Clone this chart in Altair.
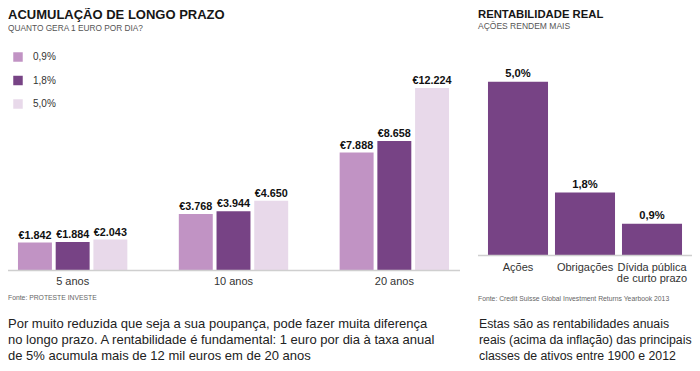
import altair as alt
import pandas as pd

# ---------------- data ----------------
periods = ["5 anos", "10 anos", "20 anos"]
rates = ["0,9%", "1,8%", "5,0%"]
values_09 = [1842, 3768, 7888]
values_18 = [1884, 3944, 8658]
values_50 = [2043, 4650, 12224]

assets = ["Ações", "Obrigações", "Dívida pública\nde curto prazo"]
returns = [5.0, 1.8, 0.9]

left_title = "ACUMULAÇÃO DE LONGO PRAZO"
left_subtitle = "QUANTO GERA 1 EURO POR DIA?"
left_source = "Fonte: PROTESTE INVESTE"
left_note = [
    "Por muito reduzida que seja a sua poupança, pode fazer muita diferença",
    "no longo prazo. A rentabilidade é fundamental: 1 euro por dia à taxa anual",
    "de 5% acumula mais de 12 mil euros em de 20 anos",
]
right_title = "RENTABILIDADE REAL"
right_subtitle = "AÇÕES RENDEM MAIS"
right_source = "Fonte: Credit Suisse Global Investment Returns Yearbook 2013"
right_note = [
    "Estas são as rentabilidades anuais",
    "reais (acima da inflação) das principais",
    "classes de ativos entre 1900 e 2012",
]

rows = []
for rate, vals in zip(rates, [values_09, values_18, values_50]):
    for p, v in zip(periods, vals):
        rows.append({"period": p, "rate": rate, "value": v,
                     "label": "€" + f"{v:,}".replace(",", ".")})
left_df = pd.DataFrame(rows)
period_df = pd.DataFrame({"period": periods})
right_df = pd.DataFrame({
    "asset": assets,
    "ret": returns,
    "label": [f"{r:.1f}%".replace(".", ",") for r in returns],
})

# ---------------- style ----------------
FONT = "Liberation Sans"
colors = ["#c193c4", "#774385", "#e8d9ea"]
PURPLE = "#774385"
AXIS_GREY = "#cfcfcf"
one = alt.Data(values=[{}])

# ---------------- left chart ----------------
xl_scale = alt.Scale(range=[0, 451], paddingInner=0.32, paddingOuter=0.062)
yl_scale = alt.Scale(domain=[0, 14000], range=[262, 53.5])
xl = alt.X("period:N", sort=periods, axis=None, scale=xl_scale)
yl = alt.Y("value:Q", axis=None, scale=yl_scale)
xo = alt.XOffset("rate:N", sort=rates, scale=alt.Scale(paddingInner=0.1))

left_bars = alt.Chart(left_df).mark_bar().encode(
    x=xl, xOffset=xo, y=yl,
    color=alt.Color(
        "rate:N", sort=rates,
        scale=alt.Scale(domain=rates, range=colors),
        legend=alt.Legend(
            title=None, orient="none", legendX=5, legendY=44,
            symbolType="square", symbolSize=90, symbolStrokeWidth=0,
            symbolOpacity=1, labelFont=FONT, labelFontSize=10,
            labelColor="#333", labelOffset=10, rowPadding=13.5, padding=0,
        ),
    ),
)
left_vals = alt.Chart(left_df).mark_text(
    font=FONT, fontWeight="bold", fontSize=10.8, baseline="alphabetic",
    dy=-4, color="#111",
).encode(x=xl, xOffset=xo, y=yl, text="label:N")
left_cats = alt.Chart(period_df).mark_text(
    font=FONT, fontSize=11, baseline="alphabetic", color="#333",
).encode(x=xl, y=alt.value(276.5), text="period:N")
left_rule = alt.Chart(one).mark_rule(color=AXIS_GREY, strokeWidth=1.5).encode(
    x=alt.value(0), x2=alt.value(452), y=alt.value(262.5))

left_layer = alt.layer(left_bars, left_vals, left_cats, left_rule)

# ---------------- right chart ----------------
xr_scale = alt.Scale(range=[470, 684], paddingInner=0.104, paddingOuter=0.149)
yr_scale = alt.Scale(domain=[0, 6], range=[247, 39])
xr = alt.X("asset:N", sort=assets, axis=None, scale=xr_scale)
yr = alt.Y("ret:Q", axis=None, scale=yr_scale)

right_bars = alt.Chart(right_df).mark_bar(color=PURPLE).encode(x=xr, y=yr)
right_vals = alt.Chart(right_df).mark_text(
    font=FONT, fontWeight="bold", fontSize=11.2, baseline="alphabetic",
    dy=-5, color="#111",
).encode(x=xr, y=yr, text="label:N")
right_cats = alt.Chart(right_df).mark_text(
    font=FONT, fontSize=11, baseline="alphabetic", color="#333",
    lineBreak="\n", lineHeight=11.8,
).encode(x=xr, y=alt.value(262.7), text="asset:N")
right_rule = alt.Chart(one).mark_rule(color=AXIS_GREY, strokeWidth=1.5).encode(
    x=alt.value(470), x2=alt.value(684), y=alt.value(247.5))

right_layer = alt.layer(right_bars, right_vals, right_cats, right_rule)


# ---------------- annotations ----------------
def note(text, x, y, size, color="#222", weight="normal", lh=None):
    kw = dict(font=FONT, fontSize=size, fontWeight=weight, align="left",
              baseline="alphabetic", color=color)
    if lh is not None:
        kw["lineHeight"] = lh
    return alt.Chart(one).mark_text(**kw).encode(
        x=alt.value(x), y=alt.value(y), text=alt.value(text))


annotations = [
    note(left_title, 0, 11, 13, "#161616", "bold"),
    note(left_subtitle, 0, 23, 8.3, "#555"),
    note(right_title, 470, 10, 11.3, "#161616", "bold"),
    note(right_subtitle, 470, 21, 8.5, "#555"),
    note(left_source, 0, 292, 6.8, "#666"),
    note(right_source, 470, 292.5, 6.8, "#666"),
    note(left_note, 0, 319.5, 13, "#222", lh=16.2),
    note(right_note, 471, 319.5, 12.3, "#222", lh=16.2),
]

chart = alt.layer(left_layer, right_layer, *annotations).resolve_scale(
    x="independent", y="independent"
).properties(
    width=684, height=357,
    autosize=alt.AutoSizeParams(type="none"),
    padding=0,
).configure_view(stroke=None)

chart.save("out.html", embed_options={"renderer": "svg", "actions": False})
